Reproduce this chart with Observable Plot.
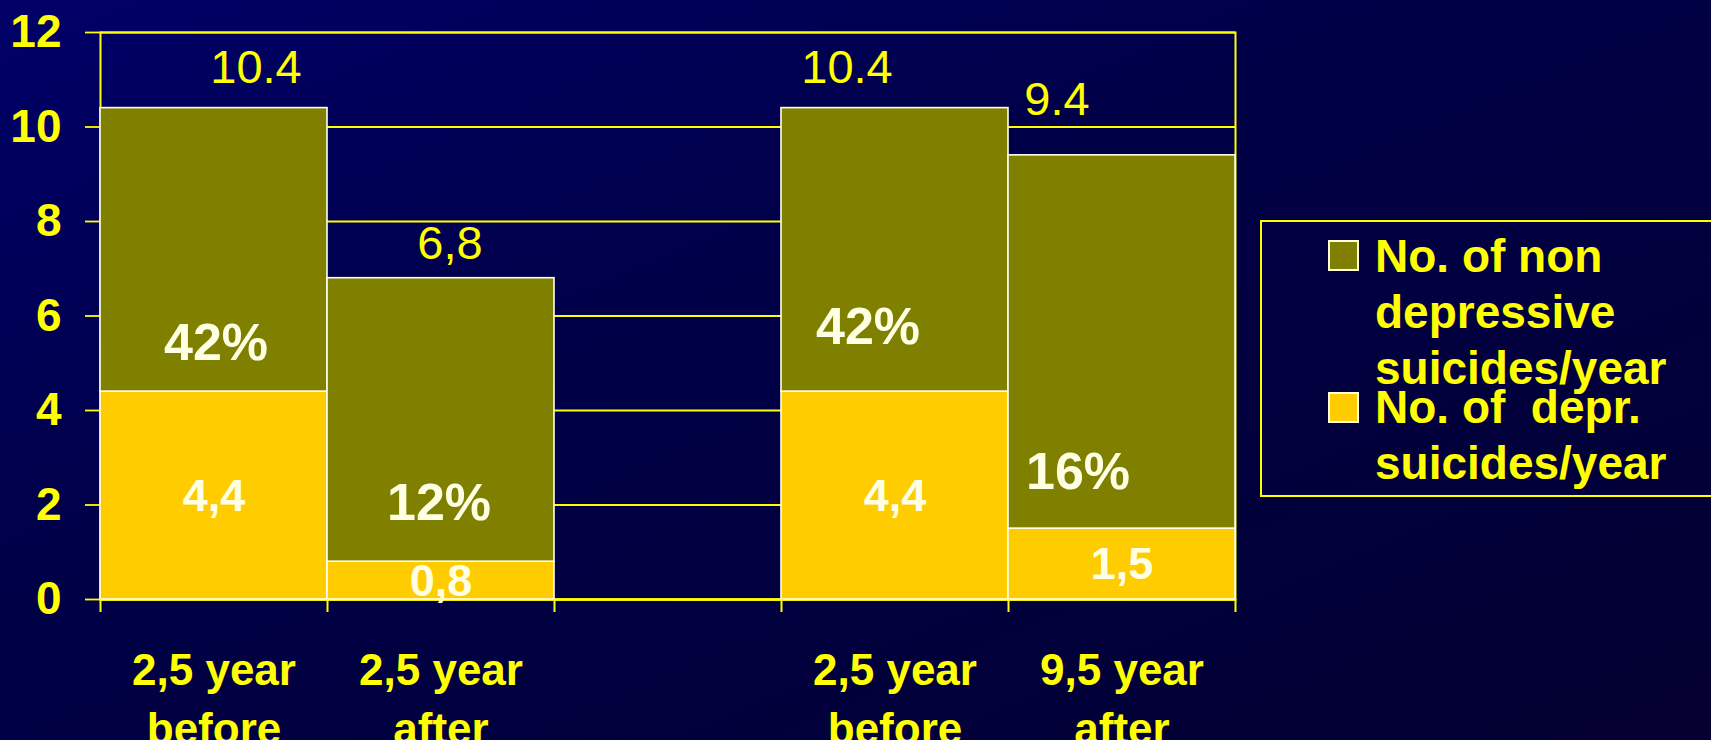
<!DOCTYPE html>
<html>
<head>
<meta charset="utf-8">
<script src="https://cdn.jsdelivr.net/npm/d3@7"></script>
<script src="https://cdn.jsdelivr.net/npm/@observablehq/plot@0.6"></script>
<style>
  html, body { margin: 0; padding: 0; }
  body {
    width: 1711px; height: 740px; overflow: hidden; position: relative;
    background: linear-gradient(to bottom right, #000068 0%, #000048 40%, #040030 100%);
    font-family: "Liberation Sans", Arial, sans-serif;
  }
  #chart { position: absolute; left: 0; top: 0; }
  #legend {
    position: absolute; left: 1260px; top: 220px; width: 480px; height: 277px;
    border: 2px solid #ffff00; box-sizing: border-box;
  }
  .swatch {
    position: absolute; width: 31px; height: 31px; box-sizing: border-box;
    border: 2px solid #ffffe0;
  }
  .lline {
    position: absolute; left: 1375px; font-size: 46px; font-weight: bold;
    line-height: 56px; height: 56px; color: #ffff00; white-space: pre;
  }
</style>
</head>
<body>
<div id="chart"></div>
<div id="legend"></div>
<script>
// ---- data ----
const categories = ["b1", "a1", "gap", "b2", "a2"];
const categoryLabels = ["2,5 year\nbefore", "2,5 year\nafter", "", "2,5 year\nbefore", "9,5 year\nafter"];
const barKeys = ["b1", "a1", "b2", "a2"];
const deprValues = [4.4, 0.8, 4.4, 1.5];
const nonDeprValues = [6.0, 6.0, 6.0, 7.9];
const deprLabels = ["4,4", "0,8", "4,4", "1,5"];
const totalLabels = ["10.4", "6,8", "10.4", "9.4"];
const percentLabels = ["42%", "12%", "42%", "16%"];
const yTicks = [0, 2, 4, 6, 8, 10, 12];
const seriesKeys = ["non", "depr"];
const seriesColors = ["#808000", "#ffcc00"];
const legendLines = [["No. of non", "depressive", "suicides/year"], ["No. of  depr.", "suicides/year"]];

// ---- layout (pixels, styles) ----
const W = 1711, H = 740, mL = 100, mR = 476, mT = 32, mB = 141;
const bw = (W - mL - mR) / categories.length;
const totalNudge = [[42, -40], [9, -34], [-48, -40], [-65, -55]];
const pctNudge = [[2, -48], [-2, -58], [-27, -64], [-44, -56]];
const YELLOW = "#ffff00", CREAM = "#ffffe4";

const rows = [];
barKeys.forEach((k, i) => {
  rows.push({key: k, series: "depr", value: deprValues[i], label: deprLabels[i]});
  rows.push({key: k, series: "non", value: nonDeprValues[i], label: ""});
});
const totals = barKeys.map((k, i) => ({key: k, total: deprValues[i] + nonDeprValues[i], depr: deprValues[i], label: totalLabels[i], pct: percentLabels[i]}));

const marks = [
  Plot.gridY(yTicks, {stroke: YELLOW, strokeOpacity: 1, strokeWidth: 1.8}),
  Plot.frame({stroke: YELLOW, strokeWidth: 2}),
  Plot.ruleY([0], {stroke: YELLOW, strokeWidth: 2.6}),
  Plot.axisY(yTicks, {tickSize: 15, tickPadding: 24, fontSize: 46, fontWeight: "bold", fill: YELLOW, stroke: YELLOW, strokeWidth: 1.8, label: null, tickFormat: d => String(d)}),
  Plot.barY(rows, {x: "key", y: "value", fill: "series", stroke: "#fffff0", strokeWidth: 1.6}),
  Plot.ruleX(categories, {x: d => d, y1: 0, y2: 0, dx: -bw / 2, insetBottom: -13, stroke: YELLOW, strokeWidth: 2}),
  Plot.ruleX([categories[categories.length - 1]], {x: d => d, y1: 0, y2: 0, dx: bw / 2, insetBottom: -13, stroke: YELLOW, strokeWidth: 2}),
  Plot.text(rows.filter(r => r.series === "depr"), Plot.stackY({x: "key", y: "value", text: "label", fontSize: 45, fontWeight: "bold", fill: CREAM, dy: 1})),
  Plot.text(categories, {x: d => d, frameAnchor: "bottom", text: (d, i) => categoryLabels[i], lineAnchor: "top", dy: 43, lineHeight: 1.35, fontSize: 44, fontWeight: "bold", fill: YELLOW})
];
totals.forEach((t, i) => {
  marks.push(Plot.text([t], {x: "key", y: "total", text: "label", dx: totalNudge[i][0], dy: totalNudge[i][1], fontSize: 47, fill: YELLOW}));
  marks.push(Plot.text([t], {x: "key", y: "depr", text: "pct", dx: pctNudge[i][0], dy: pctNudge[i][1], fontSize: 52, fontWeight: "bold", fill: CREAM}));
});

const chart = Plot.plot({
  width: W, height: H,
  marginLeft: mL, marginRight: mR, marginTop: mT, marginBottom: mB,
  style: {background: "transparent", color: YELLOW, fontFamily: "'Liberation Sans', Arial, sans-serif", overflow: "visible"},
  x: {domain: categories, padding: 0, axis: null},
  y: {domain: [0, 12], axis: null},
  color: {domain: seriesKeys, range: seriesColors},
  marks
});
document.getElementById("chart").appendChild(chart);

// ---- legend ----
const body = document.body;
const itemTops = [228, 379];
const swatchTops = [240, 392];
legendLines.forEach((lines, s) => {
  const sw = document.createElement("div");
  sw.className = "swatch";
  sw.style.left = "1328px";
  sw.style.top = swatchTops[s] + "px";
  sw.style.background = seriesColors[s];
  body.appendChild(sw);
  lines.forEach((txt, j) => {
    const d = document.createElement("div");
    d.className = "lline";
    d.style.top = (itemTops[s] + j * 56) + "px";
    d.textContent = txt;
    body.appendChild(d);
  });
});
</script>
</body>
</html>
